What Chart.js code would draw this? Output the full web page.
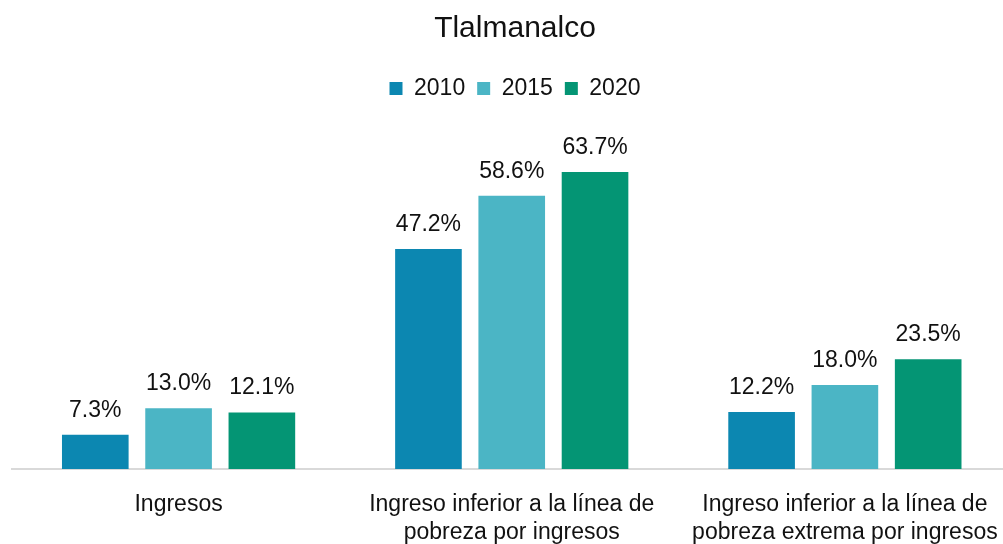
<!DOCTYPE html>
<html>
<head>
<meta charset="utf-8">
<script src="https://cdn.jsdelivr.net/npm/chart.js@4/dist/chart.umd.min.js"></script>
<style>
  html, body { margin: 0; padding: 0; background: #fff; overflow: hidden; }
  #wrap { position: relative; width: 1020px; height: 544px; }
</style>
</head>
<body>
<div id="wrap"><canvas id="chart"></canvas></div>
<script>
// categories (multi-line axis labels)
const categories = [
  ["Ingresos"],
  ["Ingreso inferior a la línea de", "pobreza por ingresos"],
  ["Ingreso inferior a la línea de", "pobreza extrema por ingresos"]
];
const years = ["2010", "2015", "2020"];
const values2010 = [7.3, 47.2, 12.2];
const values2015 = [13.0, 58.6, 18.0];
const values2020 = [12.1, 63.7, 23.5];
const colors = ["#0c87b1", "#4bb5c5", "#049574"];

const FONT = "'Liberation Sans', Arial, sans-serif";
const INK = "#111";

// value labels above each bar
const barLabels = {
  id: "barLabels",
  afterDatasetsDraw(chart) {
    const ctx = chart.ctx;
    ctx.save();
    ctx.font = "23px " + FONT;
    ctx.fillStyle = INK;
    ctx.textAlign = "center";
    ctx.textBaseline = "alphabetic";
    chart.data.datasets.forEach((ds, i) => {
      chart.getDatasetMeta(i).data.forEach((bar, j) => {
        ctx.fillText(ds.data[j].toFixed(1) + "%", bar.x, bar.y - 18);
      });
    });
    ctx.restore();
  }
};

const series = [values2010, values2015, values2020];

new Chart(document.getElementById("chart"), {
  type: "bar",
  data: {
    labels: categories,
    datasets: years.map((y, i) => ({
      label: y,
      data: series[i],
      backgroundColor: colors[i],
      barPercentage: 0.8,
      categoryPercentage: 0.75
    }))
  },
  options: {
    responsive: true,
    maintainAspectRatio: false,
    animation: false,
    layout: { padding: { left: 12, right: 2, top: 0, bottom: -25 } },
    scales: {
      x: {
        grid: { display: false, drawTicks: false },
        border: { display: true, color: "#d9d9d9", width: 2 },
        ticks: {
          color: INK,
          padding: 22,
          maxRotation: 0,
          autoSkip: false,
          font: { family: FONT, size: 23, lineHeight: 1.22 }
        }
      },
      y: { display: false, min: 0, max: 77 }
    },
    plugins: {
      title: {
        display: true,
        text: "Tlalmanalco",
        color: INK,
        font: { family: FONT, size: 30, weight: "normal", lineHeight: 1.2 },
        padding: { top: 11, bottom: 18 }
      },
      legend: {
        position: "top",
        labels: {
          color: INK,
          boxWidth: 13,
          boxHeight: 13,
          padding: 12,
          font: { family: FONT, size: 23 }
        }
      },
      tooltip: { enabled: false }
    }
  },
  plugins: [barLabels]
});
</script>
</body>
</html>
